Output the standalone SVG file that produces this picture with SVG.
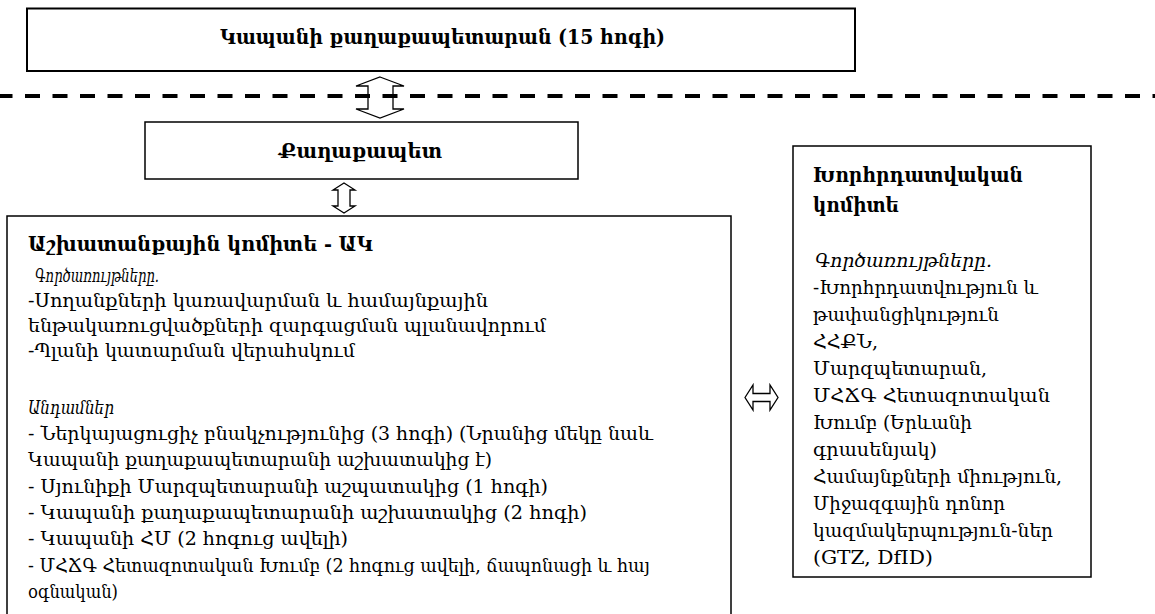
<svg xmlns="http://www.w3.org/2000/svg" width="1155" height="614" viewBox="0 0 1155 614">
  <style>
    text { font-family: "DejaVu Serif", "DejaVu Sans", serif; fill: #000; }
    .hd { font-weight: bold; font-size: 20px; }
    .tx { font-size: 18.5px; }
    .it { font-size: 18px; font-style: italic; }
    .box { fill: #fff; stroke: #000; stroke-width: 1.5; }
    .arr { fill: #fff; stroke: #000; stroke-width: 1.3; stroke-linejoin: miter; }
  </style>
  <rect width="1155" height="614" fill="#fff"/>

  <!-- connectors -->
  <g id="connectors">
    <!-- two-way arrow: city hall <-> mayor -->
    <path class="arr" d="M380,77 L404,86 L393,86 L393,109 L404,109 L380,118 L356,109 L368,109 L368,86 L356,86 Z"/>
    <!-- boundary line -->
    <line x1="0" y1="96" x2="1155" y2="96" stroke="#000" stroke-width="4" stroke-dasharray="15 12.5" stroke-dashoffset="2.5"/>
    <!-- two-way arrow: mayor <-> working committee -->
    <path class="arr" d="M344,183 L355,190 L350,190 L350,206 L355,206 L344,213 L333,206 L338,206 L338,190 L333,190 Z"/>
    <!-- two-way arrow: working committee <-> advisory committee -->
    <path class="arr" d="M745,397.5 L753,385 L753,393.5 L770,393.5 L770,385 L778,397.5 L770,410 L770,401.5 L753,401.5 L753,410 Z"/>
  </g>

  <!-- city hall -->
  <g id="city-hall">
    <rect x="27" y="8.5" width="828" height="62.5" fill="#fff" stroke="#000" stroke-width="2"/>
    <text class="hd" x="442.5" y="44" text-anchor="middle" textLength="445" lengthAdjust="spacingAndGlyphs">Կապանի քաղաքապետարան (15 հոգի)</text>
  </g>

  <!-- mayor -->
  <g id="mayor">
    <rect class="box" x="145" y="122" width="433" height="57"/>
    <text class="hd" x="360.5" y="158" text-anchor="middle" textLength="163" lengthAdjust="spacingAndGlyphs">Քաղաքապետ</text>
  </g>

  <!-- working committee -->
  <g id="working-committee">
    <rect class="box" x="7" y="216" width="724" height="420"/>
    <text class="hd" x="28" y="251" textLength="345" lengthAdjust="spacingAndGlyphs">Աշխատանքային կոմիտե - ԱԿ</text>
    <text class="it" x="35" y="282" textLength="124" lengthAdjust="spacingAndGlyphs">Գործառույթները.</text>
    <text class="tx" x="28" y="307" textLength="460" lengthAdjust="spacingAndGlyphs">-Սողանքների կառավարման և համայնքային</text>
    <text class="tx" x="28" y="332" textLength="518" lengthAdjust="spacingAndGlyphs">ենթակառուցվածքների զարգացման պլանավորում</text>
    <text class="tx" x="28" y="357" textLength="327" lengthAdjust="spacingAndGlyphs">-Պլանի կատարման վերահսկում</text>
    <text class="it" x="28" y="414" textLength="86" lengthAdjust="spacingAndGlyphs">Անդամներ</text>
    <text class="tx" x="28" y="440" textLength="625" lengthAdjust="spacingAndGlyphs">- Ներկայացուցիչ բնակչությունից (3 հոգի) (Նրանից մեկը նաև</text>
    <text class="tx" x="28" y="466" textLength="464" lengthAdjust="spacingAndGlyphs">Կապանի քաղաքապետարանի աշխատակից է)</text>
    <text class="tx" x="28" y="493" textLength="520" lengthAdjust="spacingAndGlyphs">- Սյունիքի Մարզպետարանի աշպատակից (1 հոգի)</text>
    <text class="tx" x="28" y="519" textLength="559" lengthAdjust="spacingAndGlyphs">- Կապանի քաղաքապետարանի աշխատակից (2 հոգի)</text>
    <text class="tx" x="28" y="545" textLength="320" lengthAdjust="spacingAndGlyphs">- Կապանի ՀՄ (2 հոգուց ավելի)</text>
    <text class="tx" x="28" y="572" textLength="622" lengthAdjust="spacingAndGlyphs">- ՄՀՃԳ Հետազոտական Խումբ (2 հոգուց ավելի, ճապոնացի և հայ</text>
    <text class="tx" x="28" y="598" textLength="90" lengthAdjust="spacingAndGlyphs">օգնական)</text>
  </g>

  <!-- advisory committee -->
  <g id="advisory-committee">
    <rect class="box" x="793" y="146" width="298" height="431"/>
    <text class="hd" x="813" y="182" textLength="210" lengthAdjust="spacingAndGlyphs">Խորհրդատվական</text>
    <text class="hd" x="813" y="212" textLength="86" lengthAdjust="spacingAndGlyphs">կոմիտե</text>
    <text class="it" x="815" y="267" textLength="177" lengthAdjust="spacingAndGlyphs">Գործառույթները.</text>
    <text class="tx" x="813" y="294" textLength="225" lengthAdjust="spacingAndGlyphs">-Խորհրդատվություն և</text>
    <text class="tx" x="813" y="321" textLength="186" lengthAdjust="spacingAndGlyphs">թափանցիկություն</text>
    <text class="tx" x="813" y="348" textLength="65" lengthAdjust="spacingAndGlyphs">ՀՀՔՆ,</text>
    <text class="tx" x="813" y="375" textLength="174" lengthAdjust="spacingAndGlyphs">Մարզպետարան,</text>
    <text class="tx" x="813" y="402" textLength="237" lengthAdjust="spacingAndGlyphs">ՄՀՃԳ Հետազոտական</text>
    <text class="tx" x="813" y="429" textLength="159" lengthAdjust="spacingAndGlyphs">Խումբ (Երևանի</text>
    <text class="tx" x="813" y="456" textLength="124" lengthAdjust="spacingAndGlyphs">գրասենյակ)</text>
    <text class="tx" x="813" y="483" textLength="249" lengthAdjust="spacingAndGlyphs">Համայնքների միություն,</text>
    <text class="tx" x="813" y="510" textLength="192" lengthAdjust="spacingAndGlyphs">Միջազգային դոնոր</text>
    <text class="tx" x="813" y="537" textLength="240" lengthAdjust="spacingAndGlyphs">կազմակերպություն-ներ</text>
    <text class="tx" x="813" y="564" textLength="120" lengthAdjust="spacingAndGlyphs">(GTZ, DfID)</text>
  </g>
</svg>
